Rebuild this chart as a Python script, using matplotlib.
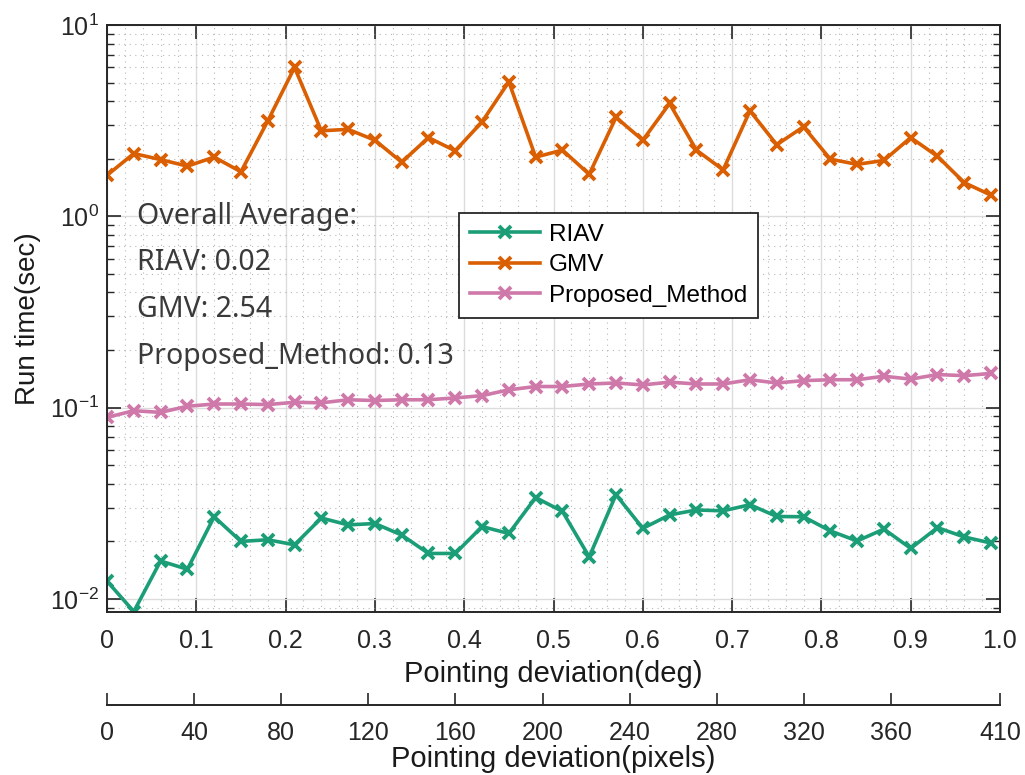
import matplotlib
matplotlib.use("Agg")
import matplotlib.pyplot as plt
from matplotlib.ticker import LogLocator, MultipleLocator, NullFormatter
import numpy as np

plt.rcParams["font.family"] = ["Liberation Sans", "DejaVu Sans"]
plt.rcParams["mathtext.fontset"] = "custom"
plt.rcParams["mathtext.rm"] = "Liberation Sans"

# pointing deviation (deg), one sample every 0.03 deg
deviation_deg = [round(0.03 * i, 2) for i in range(34)]

riav = [0.0124, 0.0086, 0.0158, 0.0143, 0.0269, 0.0200, 0.0204, 0.0192, 0.0265, 0.0244,
        0.0248, 0.0216, 0.0173, 0.0173, 0.0239, 0.0220, 0.0339, 0.0287, 0.0166, 0.0351,
        0.0234, 0.0275, 0.0292, 0.0289, 0.0311, 0.0270, 0.0269, 0.0227, 0.0201, 0.0232,
        0.0184, 0.0236, 0.0211, 0.0196]
gmv = [1.64, 2.13, 1.98, 1.83, 2.04, 1.71, 3.15, 6.0, 2.80, 2.85,
       2.50, 1.92, 2.58, 2.20, 3.12, 5.05, 2.04, 2.22, 1.66, 3.29,
       2.50, 3.89, 2.22, 1.75, 3.56, 2.37, 2.94, 1.99, 1.87, 1.96,
       2.58, 2.06, 1.50, 1.29]
proposed = [0.089, 0.0964, 0.0945, 0.1017, 0.1045, 0.1045, 0.1038, 0.1067, 0.106, 0.110,
            0.109, 0.110, 0.110, 0.1125, 0.1156, 0.124, 0.129, 0.129, 0.133, 0.1346,
            0.1315, 0.136, 0.133, 0.133, 0.140, 0.1346, 0.1385, 0.140, 0.140, 0.146,
            0.141, 0.149, 0.147, 0.151]

series_names = ["RIAV", "GMV", "Proposed_Method"]
series_colors = ["#1b9e77", "#d95f02", "#cf78aa"]
averages = ["0.02", "2.54", "0.13"]

deg_ticks = [0, 0.1, 0.2, 0.3, 0.4, 0.5, 0.6, 0.7, 0.8, 0.9, 1.0]
deg_labels = ["0", "0.1", "0.2", "0.3", "0.4", "0.5", "0.6", "0.7", "0.8", "0.9", "1.0"]
pixel_ticks = [0, 40, 80, 120, 160, 200, 240, 280, 320, 360, 410]

fig = plt.figure(figsize=(10.25, 7.75), dpi=100)
ax = fig.add_axes([0.1044, 0.2103, 0.8712, 0.7574])

for values, name, color in zip([riav, gmv, proposed], series_names, series_colors):
    ax.plot(deviation_deg, values, "-", color=color, lw=2.6, marker="x",
            ms=9, mew=2.8, label=name, clip_on=True)

ax.set_yscale("log")
ax.set_xlim(0, 1.0)
ax.set_ylim(0.00855, 10)

ax.set_xticks(deg_ticks)
ax.set_xticklabels(deg_labels)
ax.xaxis.set_minor_locator(MultipleLocator(0.02))
ax.yaxis.set_major_locator(LogLocator(base=10, numticks=10))
ax.yaxis.set_minor_locator(LogLocator(base=10, subs=np.arange(2, 10), numticks=10))
ax.yaxis.set_minor_formatter(NullFormatter())

ax.tick_params(which="both", direction="in", top=True, right=True, colors="#262626",
               labelsize=18, labelcolor="#262626")
ax.tick_params(axis="x", which="major", length=10, width=1.2, pad=12)
ax.tick_params(axis="x", which="minor", length=0)
ax.tick_params(axis="y", which="major", length=10, width=1.2, pad=6)
ax.tick_params(axis="y", which="minor", length=5, width=1.0)

ax.grid(True, which="major", color="#dcdcdc", lw=1.0, ls="-")
ax.grid(True, which="minor", color="#9a9a9a", lw=0.8, ls=(0, (1, 4)), alpha=0.7)
ax.set_axisbelow(True)

for sp in ax.spines.values():
    sp.set_color("#262626")
    sp.set_linewidth(1.4)

ax.set_xlabel("Pointing deviation(deg)", fontsize=21, color="#1a1a1a", labelpad=5)
ax.set_ylabel("Run time(sec)", fontsize=20, color="#1a1a1a", labelpad=6)

# overall averages
note_font = ["Noto Sans", "DejaVu Sans"]
ax.text(0.034, 0.673, "Overall Average:", transform=ax.transAxes, va="center",
        fontsize=20.5, color="#3a3a3a", family=note_font)
for k, (name, avg) in enumerate(zip(series_names, averages)):
    ax.text(0.034, 0.596 - k * 0.08, f"{name}: {avg}", transform=ax.transAxes,
            va="center", fontsize=20.5, color="#3a3a3a", family=note_font)

leg = ax.legend(loc="upper left", bbox_to_anchor=(0.394, 0.680), borderaxespad=0,
                fontsize=17.5, frameon=True, fancybox=False, handlelength=2.9,
                labelspacing=0.35, borderpad=0.45, handletextpad=0.35)
leg.get_frame().set_edgecolor("#262626")
leg.get_frame().set_linewidth(1.3)
leg.get_frame().set_alpha(1)

# second axis in pixels
sec = ax.secondary_xaxis(-0.158, functions=(lambda x: x * 410, lambda p: p / 410))
sec.set_xticks(pixel_ticks)
sec.tick_params(direction="in", length=9, width=1.2, colors="#262626", labelsize=18,
                pad=12)
sec.spines["bottom"].set_color("#262626")
sec.spines["bottom"].set_linewidth(1.4)
sec.set_xlabel("Pointing deviation(pixels)", fontsize=21, color="#1a1a1a", labelpad=0)

fig.savefig("out.png", dpi=100, facecolor="white")
